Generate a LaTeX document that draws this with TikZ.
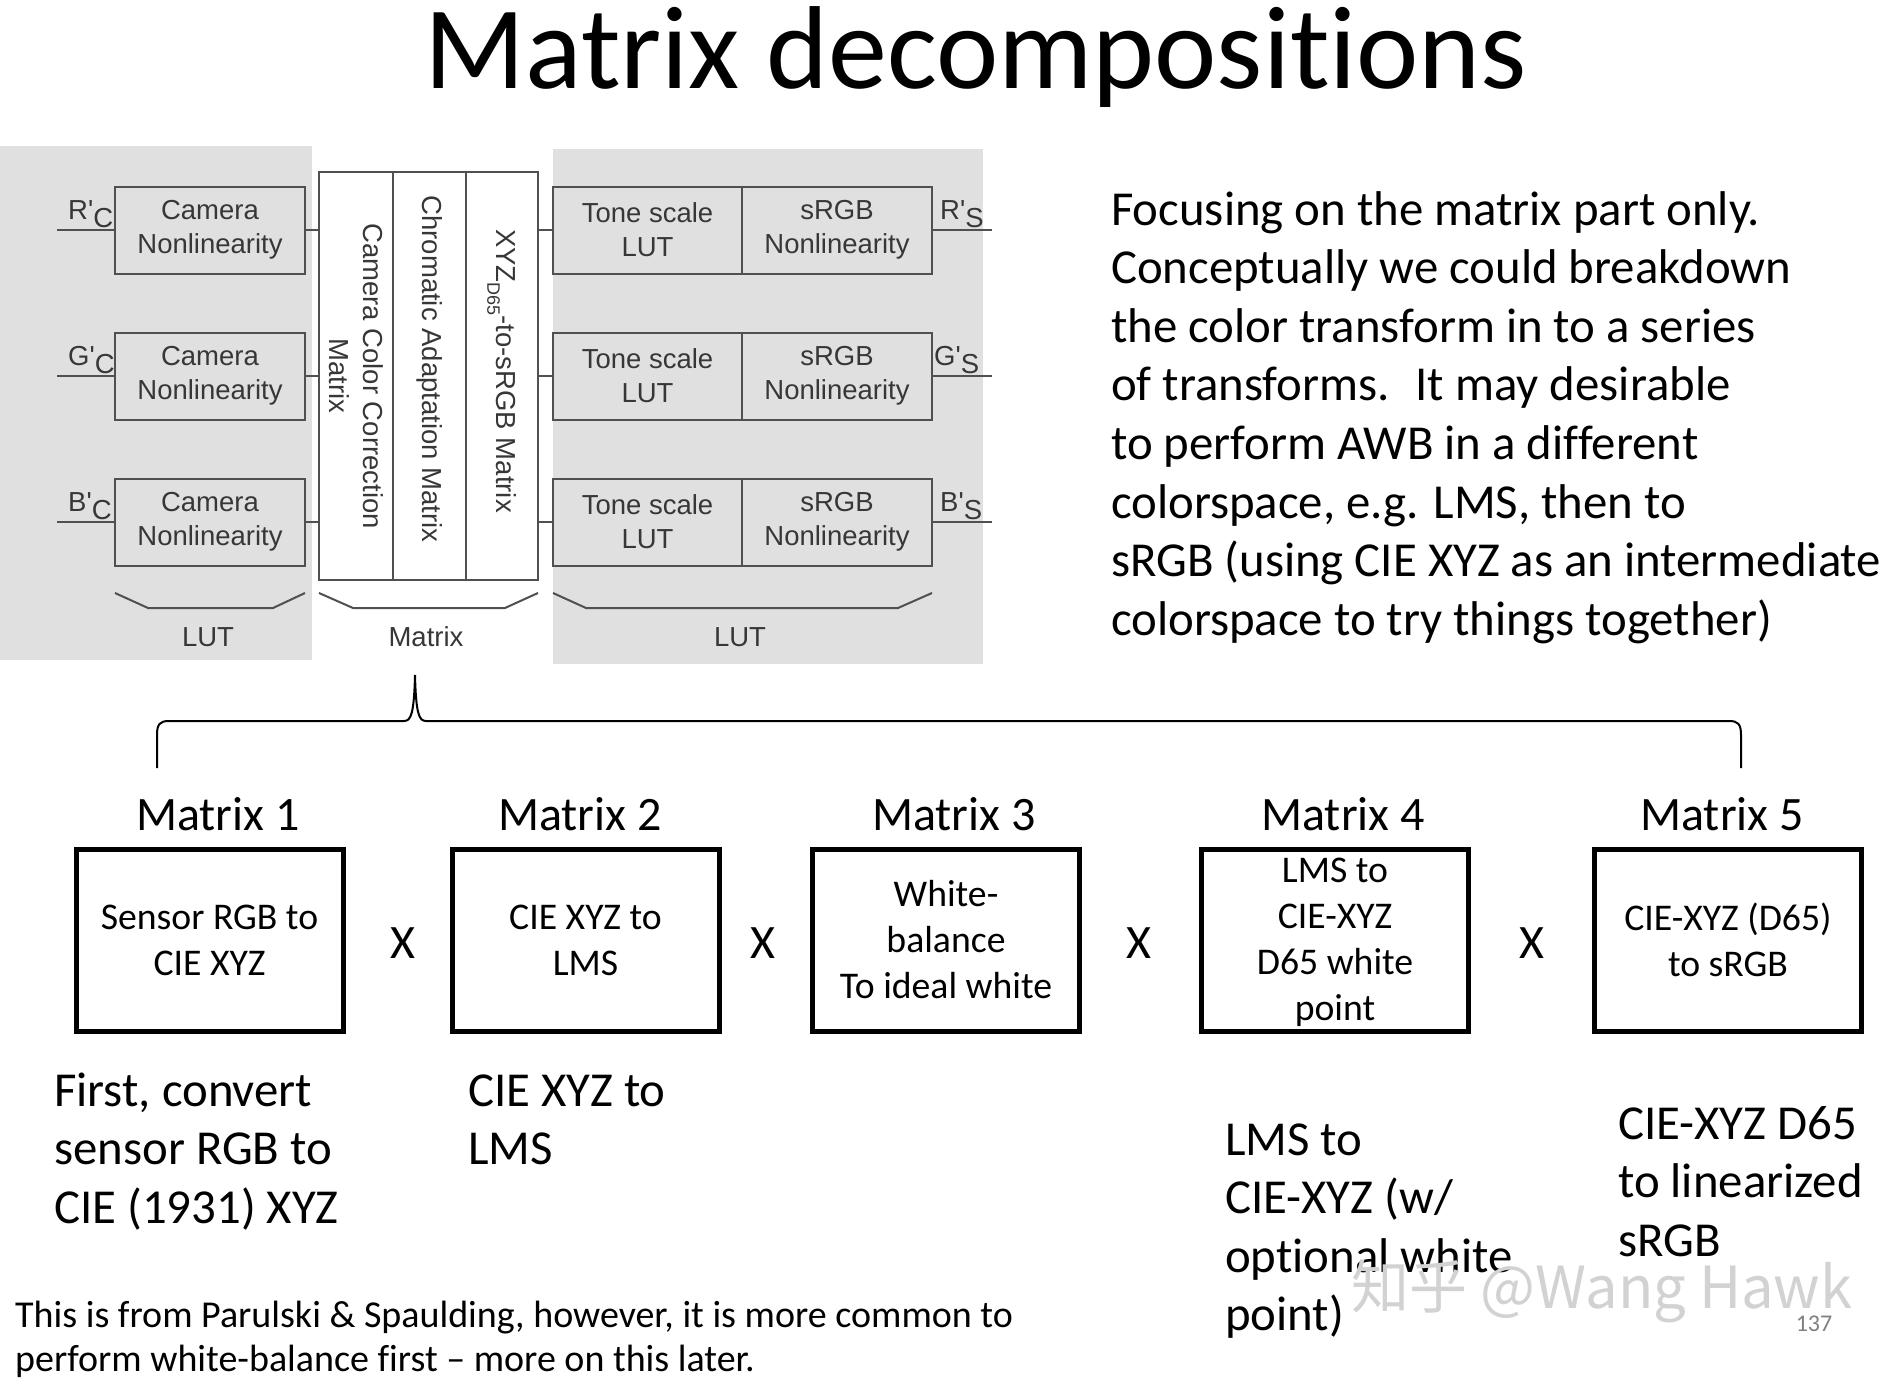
\documentclass[tikz,border=0pt]{standalone}
\usepackage{fontspec}
\setmainfont{Carlito}[Ligatures={TeX,CommonOff}]
\newfontfamily\arialf{Liberation Sans}
\newfontfamily\cjkf{Noto Sans CJK SC}
\definecolor{panelgray}{RGB}{224,224,224}
\definecolor{diagtext}{RGB}{55,55,55}
\definecolor{diagline}{RGB}{80,80,80}
\begin{document}
\begin{tikzpicture}[x=1pt,y=-1pt,
  diagfont/.style={font=\arialf\fontsize{27.5}{34}\selectfont, text=diagtext},
  lutbox/.style={draw=diagline, line width=2pt, diagfont, align=center, minimum height=87pt, inner sep=0pt},
  mcol/.style={draw=diagline, line width=2pt, fill=white, diagfont, align=center, rotate=-90, minimum width=408pt, inner sep=0pt},
  wire/.style={draw=diagline, line width=2pt},
  sig/.style={diagfont, anchor=base west, inner sep=0pt},
  brk/.style={draw=diagline, line width=2pt},
  mbox/.style={draw=black, line width=5pt, minimum width=267pt, minimum height=182pt, align=center, font=\fontsize{37.7}{46}\selectfont, inner sep=0pt},
  boxtext/.style={align=center, font=\fontsize{37.7}{46}\selectfont, inner sep=0pt},
  mlabel/.style={font=\fontsize{48}{58}\selectfont, anchor=base, inner sep=0pt},
  bodytext/.style={font=\fontsize{48.8}{58.6}\selectfont, anchor=base west, inner sep=0pt},
  foot/.style={font=\fontsize{38}{45}\selectfont, anchor=base west, inner sep=0pt},
  timesmark/.style={font=\fontsize{48}{58}\selectfont, inner sep=0pt},
]
\useasboundingbox (0,0) rectangle (1896,1378);
\fill[white] (0,0) rectangle (1896,1378);

% title
\node[font=\fontsize{118}{130}\selectfont, anchor=base, inner sep=0pt] (title) at (976,89) {Matrix decompositions};

% gray panels
\fill[panelgray] (0,146) rectangle (312,660);
\fill[panelgray] (553,149) rectangle (983,664);

% camera nonlinearity boxes
\node[lutbox, minimum width=190pt] (cam1) at (210,230) {Camera\\Nonlinearity};
\node[lutbox, minimum width=190pt] (cam2) at (210,376) {Camera\\Nonlinearity};
\node[lutbox, minimum width=190pt] (cam3) at (210,522) {Camera\\Nonlinearity};

% tone scale and sRGB boxes
\node[lutbox, minimum width=189pt] (tone1) at (647.5,230) {Tone scale\\LUT};
\node[lutbox, minimum width=189pt] (tone2) at (647.5,376) {Tone scale\\LUT};
\node[lutbox, minimum width=189pt] (tone3) at (647.5,522) {Tone scale\\LUT};
\node[lutbox, minimum width=190pt] (srgb1) at (837,230) {sRGB\\Nonlinearity};
\node[lutbox, minimum width=190pt] (srgb2) at (837,376) {sRGB\\Nonlinearity};
\node[lutbox, minimum width=190pt] (srgb3) at (837,522) {sRGB\\Nonlinearity};

% matrix columns (rotated)
\node[mcol, minimum height=74pt, font=\arialf\fontsize{27.5}{34}\selectfont] (mc1) at (356,376) {\raisebox{-4pt}{Camera Color Correction}\\\raisebox{-4pt}{Matrix}};
\node[mcol, minimum height=73pt] (mc2) at (429.5,376) {\hspace*{-14pt}Chromatic Adaptation Matrix};
\node[mcol, minimum height=72pt] (mc3) at (502,376) {\hspace*{-10pt}XYZ\raisebox{-0.35em}{\fontsize{18}{20}\selectfont D65}-to-sRGB Matrix};

% input / output wires
\coordinate (inR) at (57,230);
\coordinate (inG) at (57,376);
\coordinate (inB) at (57,522);
\coordinate (outR) at (992,230);
\coordinate (outG) at (992,376);
\coordinate (outB) at (992,522);
\draw[wire] (inR) -- (cam1.west);
\draw[wire] (inG) -- (cam2.west);
\draw[wire] (inB) -- (cam3.west);
\draw[wire] (cam1.east) -- (cam1.east -| mc1.south);
\draw[wire] (cam2.east) -- (cam2.east -| mc1.south);
\draw[wire] (cam3.east) -- (cam3.east -| mc1.south);
\draw[wire] (tone1.west -| mc3.north) -- (tone1.west);
\draw[wire] (tone2.west -| mc3.north) -- (tone2.west);
\draw[wire] (tone3.west -| mc3.north) -- (tone3.west);
\draw[wire] (srgb1.east) -- (outR);
\draw[wire] (srgb2.east) -- (outG);
\draw[wire] (srgb3.east) -- (outB);

% signal labels
\node[sig] (lRc) at (68,219) {R'\raisebox{-0.3em}{C}};
\node[sig] (lGc) at (68,365) {G'\raisebox{-0.3em}{C}};
\node[sig] (lBc) at (68,511) {B'\raisebox{-0.3em}{C}};
\node[sig] (lRs) at (940,219) {R'\raisebox{-0.3em}{S}};
\node[sig] (lGs) at (934,365) {G'\raisebox{-0.3em}{S}};
\node[sig] (lBs) at (940,511) {B'\raisebox{-0.3em}{S}};

% small braces
\draw[brk] (115,593) -- (148,608) -- (273,608) -- (305,593);
\draw[brk] (319,593) -- (353,608) -- (505,608) -- (538,593);
\draw[brk] (553,593) -- (586,608) -- (898,608) -- (932,593);
\node[diagfont] (lutL) at (208,637) {LUT};
\node[diagfont] (matT) at (426,637) {Matrix};
\node[diagfont] (lutR) at (740,637) {LUT};

% big brace
\coordinate (braceL) at (157,768);
\coordinate (braceTip) at (415,675);
\coordinate (braceR) at (1741,768);
\draw[line width=2pt] (braceL) -- (157,735) .. controls (157,724) and (160,721) .. (169,721)
  -- (404,721) .. controls (411,721) and (414,714) .. (braceTip)
  .. controls (416,714) and (419,721) .. (426,721)
  -- (1729,721) .. controls (1738,721) and (1741,724) .. (1741,735) -- (braceR);

% matrix labels
\node[mlabel] (ml1) at (218,830) {Matrix 1};
\node[mlabel] (ml2) at (580,830) {Matrix 2};
\node[mlabel] (ml3) at (954,830) {Matrix 3};
\node[mlabel] (ml4) at (1343,830) {Matrix 4};
\node[mlabel] (ml5) at (1722,830) {Matrix 5};

% matrix boxes
\node[mbox] (m1) at (209.5,940) {Sensor RGB to\\CIE XYZ};
\node[mbox] (m2) at (585.5,940) {CIE XYZ to\\LMS};
\node[mbox] (m3) at (946,940) {White-\\balance\\To ideal white};
\node[mbox] (m4) at (1335,940) {};
\node[boxtext] (m4t) at (1335,942) {LMS to\\CIE-XYZ\\D65 white\\point};
\node[mbox] (m5) at (1728,940) {CIE-XYZ (D65)\\to sRGB};

% multiplication marks
\node[timesmark] (x1) at (403,943) {X};
\node[timesmark] (x2) at (763,943) {X};
\node[timesmark] (x3) at (1139,943) {X};
\node[timesmark] (x4) at (1532,943) {X};

% paragraph
\node[bodytext] (p1) at (1111,225) {Focusing on the matrix part only.};
\node[bodytext] (p2) at (1111,283.6) {Conceptually we could breakdown};
\node[bodytext] (p3) at (1111,342.2) {the color transform in to a series};
\node[bodytext] (p4) at (1111,400.8) {of transforms.~ It may desirable};
\node[bodytext] (p5) at (1111,459.4) {to perform AWB in a different};
\node[bodytext] (p6) at (1111,518) {colorspace, e.g. LMS, then to};
\node[bodytext] (p7) at (1111,576.6) {sRGB (using CIE XYZ as an intermediate};
\node[bodytext] (p8) at (1111,635.2) {colorspace to try things together)};

% descriptions below boxes
\node[bodytext] (d1a) at (54,1106) {First, convert};
\node[bodytext] (d1b) at (54,1164.6) {sensor RGB to};
\node[bodytext] (d1c) at (54,1223.2) {CIE (1931) XYZ};
\node[bodytext] (d2a) at (468,1106) {CIE XYZ to};
\node[bodytext] (d2b) at (468,1164.6) {LMS};
\node[bodytext] (d4a) at (1225,1155) {LMS to};
\node[bodytext] (d4b) at (1225,1213.6) {CIE-XYZ (w/};
\node[bodytext] (d4c) at (1225,1272.2) {optional white};
\node[bodytext] (d4d) at (1225,1330.8) {point)};
\node[bodytext] (d5a) at (1618,1139) {CIE-XYZ D65};
\node[bodytext] (d5b) at (1618,1197.6) {to linearized};
\node[bodytext] (d5c) at (1618,1256.2) {sRGB};

% footer
\node[foot] (f1) at (15,1327) {This is from Parulski \& Spaulding, however, it is more common to};
\node[foot] (f2) at (15,1371) {perform white-balance first -- more on this later.};
\node[font=\fontsize{24}{28}\selectfont, text=gray] (pg) at (1814,1324) {137};

% watermark
\node[font=\cjkf\fontsize{58}{60}\selectfont, text=gray!35] (wm) at (1602,1291) {知乎 @Wang Hawk};
\end{tikzpicture}
\end{document}
